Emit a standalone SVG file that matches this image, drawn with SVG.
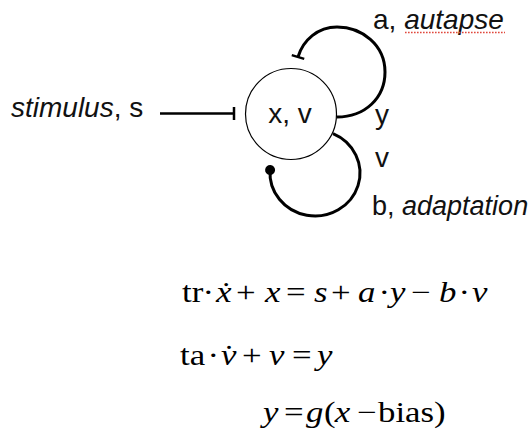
<svg xmlns="http://www.w3.org/2000/svg" width="530" height="430" viewBox="0 0 530 430">
  <style>
    .lbl { font-family: "Liberation Sans", Arial, sans-serif; font-size: 28px; fill: #111; }
    .it { font-style: italic; }
    .eq { font-family: "Liberation Serif", "Times New Roman", serif; font-size: 29px; fill: #000; }
    .mi { font-style: italic; }
    .conn { fill: none; stroke: #000; stroke-width: 3; stroke-linecap: butt; }
  </style>
  <defs>
    <marker id="tee" markerUnits="userSpaceOnUse" viewBox="-10 -10 20 20" markerWidth="20" markerHeight="20" refX="0" refY="0" orient="auto">
      <path d="M0,-6.5 V6.5" stroke="#000" stroke-width="2.5" fill="none"/>
    </marker>
    <marker id="dot" markerUnits="userSpaceOnUse" viewBox="-7 -7 14 14" markerWidth="14" markerHeight="14" refX="0" refY="0" orient="auto">
      <circle cx="0" cy="0" r="5" fill="#000"/>
    </marker>
  </defs>

  <g id="connectors">
    <path id="stimulus-edge" class="conn" d="M160,113.5 H234" style="stroke-width:2.5" marker-end="url(#tee)"/>
    <path id="autapse-edge" class="conn" d="M337,117 C365,117 385,98 385,72 C385,45 362,27 337,27 C318,27 303,40 298,57" marker-end="url(#tee)"/>
    <path id="adaptation-edge" class="conn" d="M333,133.6 A45,43 0 1 1 270.1,170" marker-end="url(#dot)"/>
  </g>

  <g id="neuron">
    <circle cx="291" cy="114" r="45.5" fill="#fff" stroke="#000" stroke-width="1.2"/>
    <text class="lbl" x="290" y="123" text-anchor="middle">x, v</text>
  </g>

  <g id="stimulus-label">
    <text class="lbl" x="11" y="117"><tspan class="it">stimulus</tspan>, s</text>
  </g>

  <g id="autapse-label">
    <text class="lbl" x="373" y="29">a, <tspan class="it">autapse</tspan></text>
    <line x1="405" y1="32.5" x2="505" y2="32.5" stroke="#e0483c" stroke-width="1.6" stroke-dasharray="1.6 1.4"/>
  </g>

  <g id="y-label">
    <text class="lbl" x="375" y="124">y</text>
  </g>
  <g id="v-label">
    <text class="lbl" x="375" y="167">v</text>
  </g>
  <g id="adaptation-label">
    <text class="lbl" x="372" y="215" style="font-size:27px">b, <tspan class="it">adaptation</tspan></text>
  </g>

  <g id="equations" transform="scale(1.2,1)">
    <text id="eq1" class="eq" y="302"><tspan x="151.67">tr</tspan><tspan x="168.83">·</tspan><tspan class="mi" x="180">ẋ</tspan><tspan x="196.67">+</tspan><tspan class="mi" x="220.83">x</tspan><tspan x="238.33">=</tspan><tspan class="mi" x="261.67">s</tspan><tspan x="275.83">+</tspan><tspan class="mi" x="298.33">a</tspan><tspan x="315.5">·</tspan><tspan class="mi" x="325">y</tspan><tspan x="342.5">−</tspan><tspan class="mi" x="365.83">b</tspan><tspan x="382.17">·</tspan><tspan class="mi" x="393.33">v</tspan></text>
    <text id="eq2" class="eq" y="365"><tspan x="150">ta</tspan><tspan x="173">·</tspan><tspan class="mi" x="184.17">v̇</tspan><tspan x="201.67">+</tspan><tspan class="mi" x="224.17">v</tspan><tspan x="243.33">=</tspan><tspan class="mi" x="264.17">y</tspan></text>
    <text id="eq3" class="eq" y="422"><tspan class="mi" x="219.17">y</tspan><tspan x="236.67">=</tspan><tspan class="mi" x="255">g</tspan><tspan x="270">(</tspan><tspan class="mi" x="279">x</tspan><tspan x="297.5">−</tspan><tspan x="315">bias)</tspan></text>
  </g>
</svg>
